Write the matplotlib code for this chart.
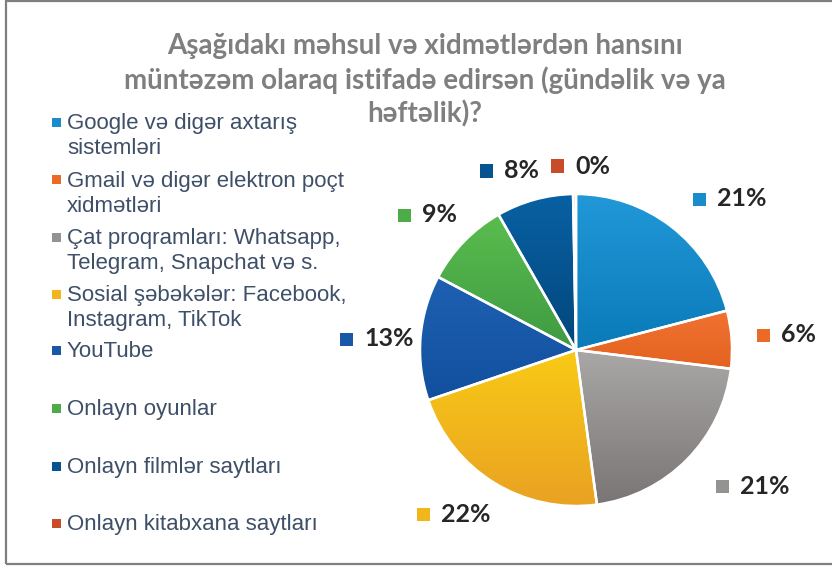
import matplotlib
matplotlib.use("Agg")
import matplotlib.pyplot as plt
import numpy as np
from matplotlib.patches import Rectangle
from matplotlib.colors import LinearSegmentedColormap

# ---- data ----
categories = [
    "Google və digər axtarış\nsistemləri",
    "Gmail və digər elektron poçt\nxidmətləri",
    "Çat proqramları: Whatsapp,\nTelegram, Snapchat və s.",
    "Sosial şəbəkələr: Facebook,\nInstagram, TikTok",
    "YouTube",
    "Onlayn oyunlar",
    "Onlayn filmlər saytları",
    "Onlayn kitabxana saytları",
]
values = [21, 6, 21, 22, 13, 9, 8, 0.3]
pct_labels = ["21%", "6%", "21%", "22%", "13%", "9%", "8%", "0%"]
title_lines = ["Aşağıdakı məhsul və xidmətlərdən hansını",
               "müntəzəm olaraq istifadə edirsən (gündəlik və ya",
               "həftəlik)?"]

# ---- style ----
top_colors = ["#2298d8", "#f07232", "#aaa8a7", "#f9ca16", "#1e60b2", "#5abd4e", "#0861a3", "#d0552e"]
bot_colors = ["#0a7ab8", "#e4621f", "#787574", "#e9a222", "#12509e", "#3f9a42", "#03467c", "#c04422"]
mid_colors = ["#1a8ccc", "#ea6a28", "#959392", "#f2b61b", "#1958a8", "#4dac48", "#06548f", "#c84c28"]

W, H = 832, 569
fig = plt.figure(figsize=(W / 100, H / 100), dpi=100)
fig.patch.set_facecolor("white")

def fx(px):
    return px / W

def fy(py):
    return 1 - py / H

# frame
fig.add_artist(Rectangle((fx(6), fy(564)), fx(840) - fx(6), fy(1) - fy(564),
                         transform=fig.transFigure, fill=False,
                         edgecolor="#7f7f7f", linewidth=1.6))

# title (three centred lines)
for i, line in enumerate(title_lines):
    fig.text(fx(425), fy(46 + 34 * i), line, ha="center", va="center",
             fontsize=20, fontweight="bold", color="#7f7f7f", family="Lato")

# pie
cx, cy, r = 576, 350, 156
ax = fig.add_axes([fx(cx - r), fy(cy + r), fx(2 * r), (2 * r) / H])
ax.set_xlim(-1, 1)
ax.set_ylim(-1, 1)
ax.set_aspect("equal")
ax.axis("off")
wedges, _ = ax.pie(values, startangle=90, counterclock=False, radius=1,
                   colors=mid_colors,
                   wedgeprops=dict(edgecolor="white", linewidth=1.8))

for w, c0, c1 in zip(wedges, top_colors, bot_colors):
    th1, th2 = np.deg2rad(w.theta1), np.deg2rad(w.theta2)
    ts = np.linspace(th1, th2, 100)
    ys = np.concatenate([[0], np.sin(ts)])
    y0, y1 = ys.min(), ys.max()
    cmap = LinearSegmentedColormap.from_list("g", [c1, c0])
    grad = np.linspace(0, 1, 256).reshape(-1, 1)
    im = ax.imshow(grad, cmap=cmap, extent=[-1, 1, y0, y1], origin="lower",
                   aspect="auto", zorder=1.5)
    im.set_clip_path(w)
    w.set_facecolor("none")
    w.set_zorder(2)
ax.set_xlim(-1, 1)
ax.set_ylim(-1, 1)

# data labels (positions in pixels: square left, text center)
label_pos = [(693, 199), (757, 335), (716, 486), (417, 514),
             (340, 339), (398, 215), (480, 171), (551, 166)]
sq = 13
for (px, py), lab, col in zip(label_pos, pct_labels, mid_colors):
    fig.add_artist(Rectangle((fx(px), fy(py + sq / 2)), fx(sq), sq / H,
                             transform=fig.transFigure, facecolor=col,
                             edgecolor="none"))
    fig.text(fx(px + sq + 11), fy(py), lab, ha="left", va="center",
             fontsize=18, fontweight="bold", color="#262626", family="Lato")

# legend
leg_top = [122, 180, 237, 294, 350, 408, 466, 523]
lsq = 9
for yy, lab, col in zip(leg_top, categories, mid_colors):
    fig.add_artist(Rectangle((fx(52), fy(yy + lsq / 2)), fx(lsq), lsq / H,
                             transform=fig.transFigure, facecolor=col,
                             edgecolor="none"))
    fig.text(fx(67), fy(yy - 9), lab, ha="left", va="top", fontsize=16,
             color="#3e4f68", family="Liberation Sans", linespacing=1.28)

fig.savefig("out.png", dpi=100, facecolor="white")
